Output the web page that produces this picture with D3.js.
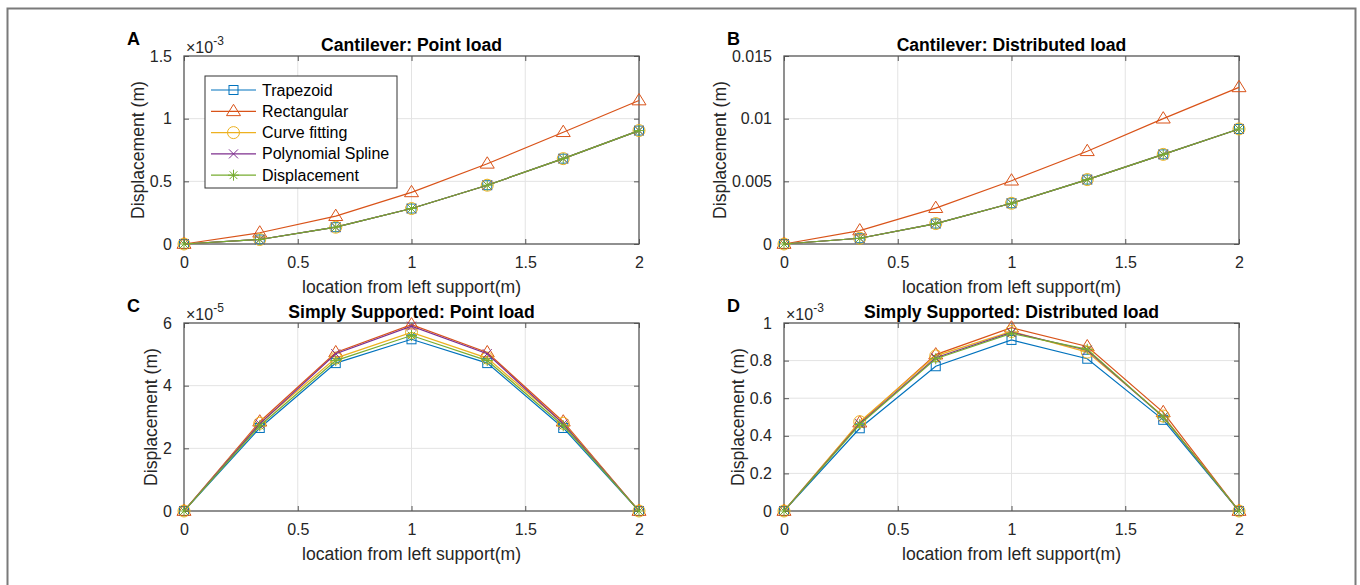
<!DOCTYPE html>
<html>
<head>
<meta charset="utf-8">
<script src="https://cdn.jsdelivr.net/npm/d3@7"></script>
<style>
  body { margin: 0; background: #fff; }
  svg text { font-family: "Liberation Sans", Arial, Helvetica, sans-serif; }
</style>
</head>
<body>
<svg id="fig" width="1360" height="585"></svg>
<script>
// x positions along the beam (m)
const xLocation = [0, 0.333, 0.667, 1, 1.333, 1.667, 2];

const seriesNames = ['Trapezoid', 'Rectangular', 'Curve fitting', 'Polynomial Spline', 'Displacement'];
const seriesColors = ['#0072BD', '#D95319', '#EDB120', '#7E2F8E', '#77AC30'];
const seriesMarkers = ['square', 'triangle', 'circle', 'cross', 'star'];

// A: cantilever, point load (m)
const cantPointTrap = [0, 0.036e-3, 0.134e-3, 0.283e-3, 0.469e-3, 0.681e-3, 0.905e-3];
const cantPointRect = [0, 0.090e-3, 0.222e-3, 0.412e-3, 0.640e-3, 0.892e-3, 1.145e-3];
const cantPointCurve = [0, 0.036e-3, 0.134e-3, 0.283e-3, 0.469e-3, 0.681e-3, 0.905e-3];
const cantPointPoly = [0, 0.036e-3, 0.134e-3, 0.283e-3, 0.469e-3, 0.681e-3, 0.905e-3];
const cantPointDisp = [0, 0.036e-3, 0.134e-3, 0.283e-3, 0.469e-3, 0.681e-3, 0.905e-3];

// B: cantilever, distributed load (m)
const cantDistTrap = [0, 0.00046, 0.00163, 0.00325, 0.00514, 0.00715, 0.00918];
const cantDistRect = [0, 0.00107, 0.00286, 0.00505, 0.00740, 0.01000, 0.01250];
const cantDistCurve = [0, 0.00046, 0.00163, 0.00325, 0.00514, 0.00715, 0.00918];
const cantDistPoly = [0, 0.00046, 0.00163, 0.00325, 0.00514, 0.00715, 0.00918];
const cantDistDisp = [0, 0.00046, 0.00163, 0.00325, 0.00514, 0.00715, 0.00918];

// C: simply supported, point load (m)
const ssPointTrap = [0, 2.65e-5, 4.72e-5, 5.48e-5, 4.72e-5, 2.65e-5, 0];
const ssPointRect = [0, 2.85e-5, 5.06e-5, 5.95e-5, 5.06e-5, 2.85e-5, 0];
const ssPointCurve = [0, 2.80e-5, 4.88e-5, 5.70e-5, 4.88e-5, 2.80e-5, 0];
const ssPointPoly = [0, 2.78e-5, 5.02e-5, 5.90e-5, 5.02e-5, 2.78e-5, 0];
const ssPointDisp = [0, 2.72e-5, 4.80e-5, 5.60e-5, 4.80e-5, 2.72e-5, 0];

// D: simply supported, distributed load (m)
const ssDistTrap = [0, 0.440e-3, 0.770e-3, 0.910e-3, 0.810e-3, 0.485e-3, 0];
const ssDistRect = [0, 0.470e-3, 0.832e-3, 0.975e-3, 0.875e-3, 0.525e-3, 0];
const ssDistCurve = [0, 0.475e-3, 0.825e-3, 0.955e-3, 0.845e-3, 0.505e-3, 0];
const ssDistPoly = [0, 0.465e-3, 0.815e-3, 0.950e-3, 0.855e-3, 0.500e-3, 0];
const ssDistDisp = [0, 0.460e-3, 0.810e-3, 0.945e-3, 0.860e-3, 0.500e-3, 0];

const xTicks = [0, 0.5, 1, 1.5, 2];
const xTickLabels = ['0', '0.5', '1', '1.5', '2'];
const yTicksA = [0, 0.5e-3, 1e-3, 1.5e-3];
const yTickLabelsA = ['0', '0.5', '1', '1.5'];
const yTicksB = [0, 0.005, 0.01, 0.015];
const yTickLabelsB = ['0', '0.005', '0.01', '0.015'];
const yTicksC = [0, 2e-5, 4e-5, 6e-5];
const yTickLabelsC = ['0', '2', '4', '6'];
const yTicksD = [0, 0.2e-3, 0.4e-3, 0.6e-3, 0.8e-3, 1e-3];
const yTickLabelsD = ['0', '0.2', '0.4', '0.6', '0.8', '1'];

const PLOT_W = 455;
const PLOT_H = 188;
const AXIS_COLOR = '#555';
const GRID_COLOR = '#e3e3e3';
const TEXT_COLOR = '#262626';
const TICK_FONT = 16;
const LABEL_FONT = 17.6; // matlab labels/titles are 1.1x the tick font

const panels = [
  { letter: 'A', title: 'Cantilever: Point load', left: 184, top: 56,
    yTicks: yTicksA, yLabels: yTickLabelsA, exponent: '-3', legend: true,
    series: [cantPointTrap, cantPointRect, cantPointCurve, cantPointPoly, cantPointDisp] },
  { letter: 'B', title: 'Cantilever: Distributed load', left: 784, top: 56,
    yTicks: yTicksB, yLabels: yTickLabelsB, exponent: null,
    series: [cantDistTrap, cantDistRect, cantDistCurve, cantDistPoly, cantDistDisp] },
  { letter: 'C', title: 'Simply Supported: Point load', left: 184, top: 323,
    yTicks: yTicksC, yLabels: yTickLabelsC, exponent: '-5',
    series: [ssPointTrap, ssPointRect, ssPointCurve, ssPointPoly, ssPointDisp] },
  { letter: 'D', title: 'Simply Supported: Distributed load', left: 784, top: 323,
    yTicks: yTicksD, yLabels: yTickLabelsD, exponent: '-3',
    series: [ssDistTrap, ssDistRect, ssDistCurve, ssDistPoly, ssDistDisp] }
];

const svg = d3.select('#fig');

// outer frame of the figure
svg.append('path')
   .attr('d', 'M7.5,585 L7.5,8.5 L1355.5,8.5 L1355.5,585')
   .attr('fill', 'none')
   .attr('stroke', '#7a7a7a')
   .attr('stroke-width', 2);

function drawMarker(g, type, x, y, color) {
  const s = 4.5;
  if (type === 'square') {
    g.append('rect').attr('x', x - s).attr('y', y - s).attr('width', 2 * s).attr('height', 2 * s)
     .attr('fill', 'none').attr('stroke', color);
  } else if (type === 'triangle') {
    const r = 7;
    g.append('path')
     .attr('d', `M${x},${y - r} L${x + r},${y + r * 0.62} L${x - r},${y + r * 0.62} Z`)
     .attr('fill', 'none').attr('stroke', color);
  } else if (type === 'circle') {
    g.append('circle').attr('cx', x).attr('cy', y).attr('r', 6)
     .attr('fill', 'none').attr('stroke', color);
  } else if (type === 'cross') {
    g.append('path')
     .attr('d', `M${x - s},${y - s} L${x + s},${y + s} M${x - s},${y + s} L${x + s},${y - s}`)
     .attr('fill', 'none').attr('stroke', color);
  } else {
    const r = 5.5;
    const d = r * 0.707;
    g.append('path')
     .attr('d', `M${x},${y - r} L${x},${y + r} M${x - r},${y} L${x + r},${y}` +
                ` M${x - d},${y - d} L${x + d},${y + d} M${x - d},${y + d} L${x + d},${y - d}`)
     .attr('fill', 'none').attr('stroke', color);
  }
}

panels.forEach(p => {
  const g = svg.append('g').attr('transform', `translate(${p.left},${p.top})`);
  const xScale = d3.scaleLinear().domain([0, 2]).range([0, PLOT_W]);
  const yMax = p.yTicks[p.yTicks.length - 1];
  const yScale = d3.scaleLinear().domain([0, yMax]).range([PLOT_H, 0]);

  // grid
  const grid = g.append('g').attr('class', 'grid');
  grid.selectAll('line.gx').data(xTicks.slice(1, -1)).enter().append('line')
      .attr('x1', d => xScale(d)).attr('x2', d => xScale(d))
      .attr('y1', 0).attr('y2', PLOT_H)
      .attr('stroke', GRID_COLOR);
  grid.selectAll('line.gy').data(p.yTicks.slice(1, -1)).enter().append('line')
      .attr('y1', d => yScale(d)).attr('y2', d => yScale(d))
      .attr('x1', 0).attr('x2', PLOT_W)
      .attr('stroke', GRID_COLOR);

  // axes: inward ticks on all four sides
  const fmtX = d => xTickLabels[xTicks.indexOf(d)];
  const fmtY = d => p.yLabels[p.yTicks.indexOf(d)];
  const axB = g.append('g').attr('transform', `translate(0,${PLOT_H})`)
      .call(d3.axisBottom(xScale).tickValues(xTicks).tickFormat(fmtX).tickSizeInner(-5).tickSizeOuter(0).tickPadding(13));
  const axT = g.append('g')
      .call(d3.axisTop(xScale).tickValues(xTicks).tickFormat('').tickSizeInner(-5).tickSizeOuter(0));
  const axL = g.append('g')
      .call(d3.axisLeft(yScale).tickValues(p.yTicks).tickFormat(fmtY).tickSizeInner(-5).tickSizeOuter(0).tickPadding(12));
  const axR = g.append('g').attr('transform', `translate(${PLOT_W},0)`)
      .call(d3.axisRight(yScale).tickValues(p.yTicks).tickFormat('').tickSizeInner(-5).tickSizeOuter(0));
  [axB, axT, axL, axR].forEach(a => {
    a.select('.domain').remove();
    a.selectAll('line').attr('stroke', AXIS_COLOR);
    a.selectAll('text').attr('font-size', TICK_FONT).attr('fill', TEXT_COLOR)
     .attr('font-family', '"Liberation Sans", Arial, sans-serif');
  });

  g.append('rect').attr('width', PLOT_W).attr('height', PLOT_H)
   .attr('fill', 'none').attr('stroke', AXIS_COLOR).attr('stroke-width', 1.3);

  // series lines and markers
  const line = d3.line().x((d, i) => xScale(xLocation[i])).y(d => yScale(d));
  p.series.forEach((vals, si) => {
    const sg = g.append('g');
    sg.append('path').datum(vals).attr('d', line)
      .attr('fill', 'none').attr('stroke', seriesColors[si]).attr('stroke-width', 1.2);
    vals.forEach((v, i) => drawMarker(sg, seriesMarkers[si], xScale(xLocation[i]), yScale(v), seriesColors[si]));
  });

  // title
  svg.append('text')
     .attr('x', p.left + PLOT_W / 2).attr('y', p.top - 5)
     .attr('text-anchor', 'middle').attr('font-weight', 'bold').attr('font-size', LABEL_FONT)
     .attr('fill', '#000').text(p.title);

  // panel letter
  svg.append('text')
     .attr('x', p.left - 57).attr('y', p.top - 11)
     .attr('font-weight', 'bold').attr('font-size', 18).attr('fill', '#000')
     .text(p.letter);

  // x label
  svg.append('text')
     .attr('x', p.left + PLOT_W / 2).attr('y', p.top + PLOT_H + 49)
     .attr('text-anchor', 'middle').attr('font-size', LABEL_FONT).attr('fill', TEXT_COLOR)
     .text('location from left support(m)');

  // y label, placed left of the widest tick label
  let maxW = 0;
  axL.selectAll('text').each(function () { maxW = Math.max(maxW, this.getComputedTextLength()); });
  const yl = p.left - 7 - maxW - 11;
  svg.append('text')
     .attr('transform', `translate(${yl},${p.top + PLOT_H / 2}) rotate(-90)`)
     .attr('text-anchor', 'middle').attr('font-size', LABEL_FONT).attr('fill', TEXT_COLOR)
     .text('Displacement (m)');

  // exponent
  if (p.exponent) {
    const ex = svg.append('text')
       .attr('x', p.left + 2).attr('y', p.top - 3)
       .attr('font-size', TICK_FONT).attr('fill', TEXT_COLOR);
    ex.append('tspan').text('\u00d710');
    ex.append('tspan').attr('dy', -8).attr('font-size', 12).text(p.exponent);
  }

  // legend
  if (p.legend) {
    const lg = svg.append('g').attr('transform', 'translate(205,76)');
    lg.append('rect').attr('width', 192).attr('height', 112)
      .attr('fill', '#fff').attr('stroke', '#333').attr('stroke-width', 1);
    seriesNames.forEach((name, si) => {
      const cy = 14 + si * 21.3;
      lg.append('line').attr('x1', 6).attr('x2', 51).attr('y1', cy).attr('y2', cy)
        .attr('stroke', seriesColors[si]).attr('stroke-width', 1.2);
      drawMarker(lg, seriesMarkers[si], 28.5, cy, seriesColors[si]);
      lg.append('text').attr('x', 57).attr('y', cy + 5.5)
        .attr('font-size', 16).attr('fill', '#000').text(name);
    });
  }
});
</script>
</body>
</html>
